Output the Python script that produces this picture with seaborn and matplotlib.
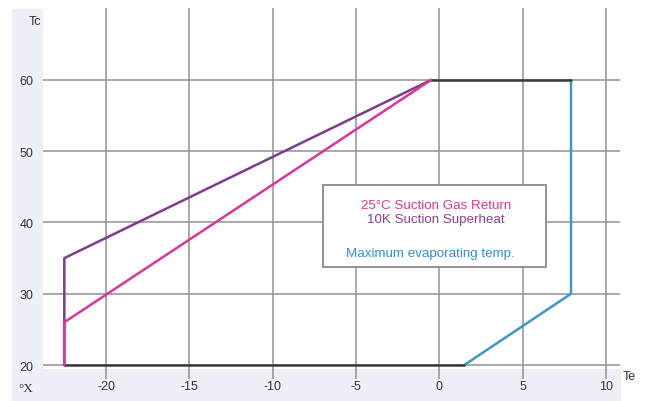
import matplotlib
matplotlib.use("Agg")
import matplotlib.pyplot as plt
import seaborn as sns
import pandas as pd
from matplotlib.patches import Rectangle

# Data
superheat_te = [-22.5, -22.5, -0.5]
superheat_tc = [20, 35, 60]
gas_return_te = [-22.5, -22.5, -0.5]
gas_return_tc = [20, 26, 60]
max_evap_te = [1.5, 7.9, 7.9]
max_evap_tc = [20, 30, 60]
bottom_te = [-22.5, 1.5]
bottom_tc = [20, 20]
top_te = [-0.5, 7.9]
top_tc = [60, 60]
x_ticks = [-20, -15, -10, -5, 0, 5, 10]
y_ticks = [20, 30, 40, 50, 60]
legend_lines = ["25°C Suction Gas Return", "10K Suction Superheat", "Maximum evaporating temp."]

sns.set_style("white")
plt.rcParams['font.family'] = ['Liberation Sans', 'DejaVu Sans']

W, H = 649, 402
fig = plt.figure(figsize=(W / 100, H / 100), dpi=100, facecolor="white")
band = "#eef0f8"
fig.patches.append(Rectangle((12 / W, 0), (43 - 12) / W, 1 - 10 / H, transform=fig.transFigure, color=band, zorder=-10))
fig.patches.append(Rectangle((12 / W, 0), (620 - 12) / W, 1 - 370 / H, transform=fig.transFigure, color=band, zorder=-10))

ax = fig.add_axes([43 / W, 1 - 370 / H, (620 - 43) / W, (370 - 9) / H])
ax.set_facecolor("white")
ax.set_xlim(-23.78, 10.84)
ax.set_ylim(19.44, 70.1)

grid_c = "#999999"
for xv in x_ticks:
    ax.axvline(xv, color=grid_c, lw=1.2, zorder=1)
for yv in y_ticks:
    ax.axhline(yv, color=grid_c, lw=1.2, zorder=1)

lw = 1.8
sns.lineplot(x=superheat_te, y=superheat_tc, sort=False, estimator=None, color="#7d3c8c", lw=lw, ax=ax, zorder=3)
sns.lineplot(x=gas_return_te, y=gas_return_tc, sort=False, estimator=None, color="#d9359c", lw=lw, ax=ax, zorder=4)
sns.lineplot(x=max_evap_te, y=max_evap_tc, sort=False, estimator=None, color="#3b98c4", lw=lw, ax=ax, zorder=3)
sns.lineplot(x=bottom_te, y=bottom_tc, sort=False, estimator=None, color="#3a3a3a", lw=lw, ax=ax, zorder=3)
sns.lineplot(x=top_te, y=top_tc, sort=False, estimator=None, color="#3a3a3a", lw=lw, ax=ax, zorder=3)

for s in ax.spines.values():
    s.set_visible(False)
ax.set_xticks(x_ticks)
ax.set_xticklabels([str(v) for v in x_ticks])
ax.set_yticks(y_ticks)
ax.set_yticklabels([str(v) for v in y_ticks])
ax.tick_params(axis="x", length=7, width=1.2, color=grid_c, pad=1, labelsize=9, labelcolor="#333333", direction="out", bottom=True)
ax.tick_params(axis="y", length=0, pad=7, labelsize=9, labelcolor="#333333", left=True)
ax.set_xlabel("")
ax.set_ylabel("")

# legend box
ax.add_patch(Rectangle((-6.98, 33.75), 6.4 + 6.98, 45.26 - 33.75, facecolor="white", edgecolor="#8a8a8a", lw=1.3, zorder=6))
ax.text(-0.2, 42.45, legend_lines[0], color="#e0329a", fontsize=9.6, ha="center", va="center", zorder=7)
ax.text(-0.2, 40.45, legend_lines[1], color="#8e3c9c", fontsize=9.6, ha="center", va="center", zorder=7)
ax.text(-0.55, 35.7, legend_lines[2], color="#2f8fd2", fontsize=9.6, ha="center", va="center", zorder=7)

fig.text(35 / W, 1 - 22 / H, "Tc", fontsize=9, ha="center", va="center", color="#333333")
fig.text(629 / W, 1 - 377 / H, "Te", fontsize=9, ha="center", va="center", color="#333333")
fig.text(26 / W, 1 - 389 / H, "°X", fontsize=9.5, ha="center", va="center", color="#333333", family=["Liberation Serif", "DejaVu Serif"])

fig.savefig("out.png", dpi=100, facecolor="white")
